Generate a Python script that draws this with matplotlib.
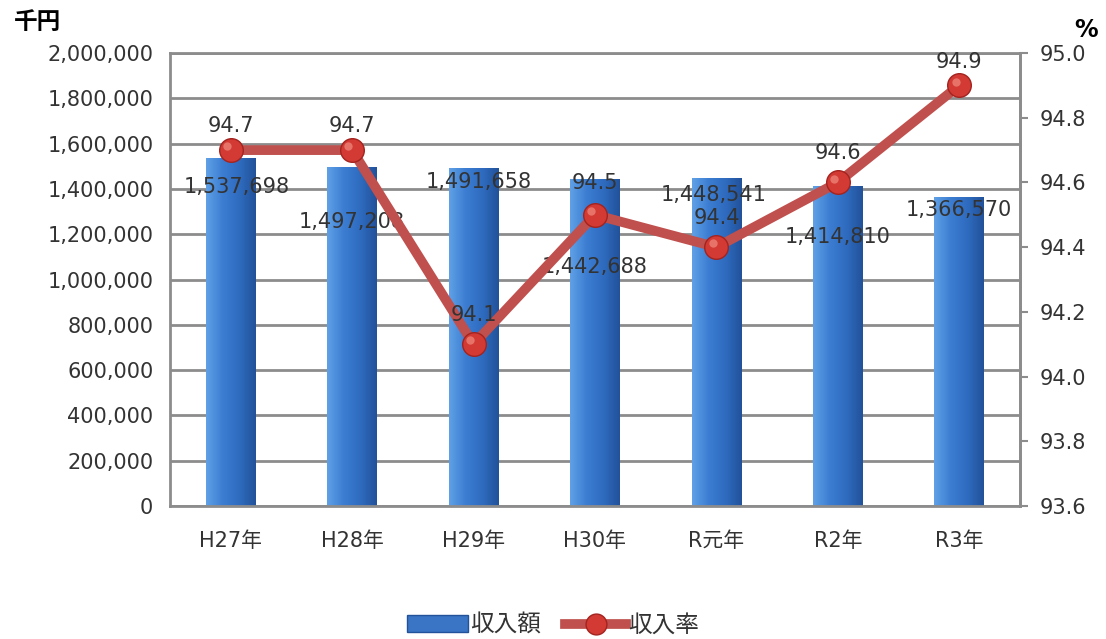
import numpy as np
import matplotlib.pyplot as plt
from matplotlib.colors import LinearSegmentedColormap
from matplotlib.lines import Line2D
from matplotlib.patches import Patch

plt.rcParams['font.family'] = ['DejaVu Sans', 'Noto Sans CJK JP']

categories = ['H27年', 'H28年', 'H29年', 'H30年', 'R元年', 'R2年', 'R3年']
income = [1537698, 1497208, 1491658, 1442688, 1448541, 1414810, 1366570]
rate = [94.7, 94.7, 94.1, 94.5, 94.4, 94.6, 94.9]

# label offsets in points (dx, dy)
bar_label_off = [(4, -21), (0, -40), (4, -10), (0, -63), (-2, -12), (0, -37), (0, -10)]
rate_label_off = [(0, 17), (0, 17), (0, 21), (0, 23), (0, 21), (0, 21), (0, 17)]

fig = plt.figure(figsize=(11.06, 6.39), dpi=100)
ax = fig.add_axes([0.1537, 0.2081, 0.7685, 0.7089])
ax2 = ax.twinx()

x = np.arange(len(categories))
bars = ax.bar(x, income, width=0.41, color='#3A74C4', zorder=2)

# gradient fill on the bars
cmap = LinearSegmentedColormap.from_list('bar', ['#5FA0E6', '#3C7DD2', '#2F6CC0', '#22529A'])
grad = np.linspace(0, 1, 64).reshape(1, -1)
for b in bars:
    x0, y0 = b.get_x(), b.get_y()
    w, h = b.get_width(), b.get_height()
    im = ax.imshow(grad, cmap=cmap, aspect='auto', extent=[x0, x0 + w, y0, y0 + h], zorder=2.1)
    im.set_clip_path(b)

ax.set_xlim(-0.5, len(categories) - 0.5)
ax.set_ylim(0, 2000000)
ax.set_yticks(np.arange(0, 2000001, 200000))
ax.set_yticklabels([f'{v:,}' for v in range(0, 2000001, 200000)])
ax.set_xticks(x)
ax.set_xticklabels(categories)
ax.yaxis.grid(True, color='#8C8C8C', linewidth=2, zorder=0)
ax.set_axisbelow(True)
ax.tick_params(axis='both', length=0, labelsize=15, colors='#333333', pad=12)
ax.tick_params(axis='x', pad=18)

for sp in ['left', 'top', 'right', 'bottom']:
    ax.spines[sp].set_color('#8C8C8C')
    ax.spines[sp].set_linewidth(2)
for sp in ax2.spines.values():
    sp.set_visible(False)
ax2.spines['right'].set_visible(True)
ax2.spines['right'].set_color('#8C8C8C')
ax2.spines['right'].set_linewidth(2)

ax2.plot(x, rate, color='#C0504D', linewidth=7, solid_capstyle='butt', zorder=3)
ax2.plot(x, rate, linestyle='none', marker='o', markersize=17,
         markerfacecolor='#D23A33', markeredgecolor='#A3231F', markeredgewidth=1, zorder=4)
ax2.plot(np.array(x) - 0.03, np.array(rate) + 0.012, linestyle='none', marker='o', markersize=6,
         markerfacecolor='#F08A80', markeredgecolor='none', alpha=0.7, zorder=5)
ax2.set_ylim(93.6, 95.0)
ax2.set_yticks(np.arange(93.6, 95.01, 0.2))
ax2.set_yticklabels([f'{v:.1f}' for v in np.arange(93.6, 95.01, 0.2)])
ax2.tick_params(axis='y', length=6, width=1.5, labelsize=15, pad=8,
                colors='#8C8C8C', labelcolor='#333333')

for i, v in enumerate(income):
    ax.annotate(f'{v:,}', (x[i], v), xytext=bar_label_off[i], textcoords='offset points',
                ha='center', va='center', fontsize=15, color='#333333', zorder=6)
for i, v in enumerate(rate):
    ax2.annotate(f'{v:.1f}', (x[i], v), xytext=rate_label_off[i], textcoords='offset points',
                 ha='center', va='center', fontsize=15, color='#333333', zorder=6)

fig.text(0.034, 0.965, '千円', fontsize=17, fontweight='bold', ha='center', va='center')
fig.text(0.982, 0.953, '%', fontsize=17, fontweight='bold', ha='center', va='center')

handles = [Patch(facecolor='#3A74C4', edgecolor='#22529A'),
           Line2D([], [], color='#C0504D', linewidth=7, marker='o', markersize=15,
                  markerfacecolor='#D23A33', markeredgecolor='#A3231F')]
fig.legend(handles, ['収入額', '収入率'], loc='center', bbox_to_anchor=(0.5, 0.022),
           ncol=2, frameon=False, fontsize=17, handlelength=2.6, handletextpad=0.1,
           columnspacing=1.0, labelcolor='#333333')

fig.savefig('out.png', dpi=100)
